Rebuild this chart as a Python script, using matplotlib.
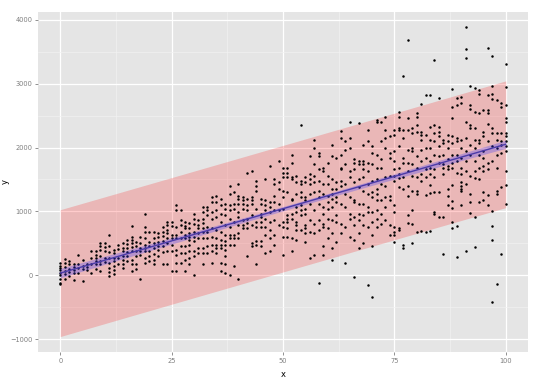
import numpy as np
import matplotlib
matplotlib.use("Agg")
import matplotlib.pyplot as plt

# ---- data: one list of y values per integer x ----
x_cols = list(range(101))
y_cols = [
    [195, 154, 118, 82, 41, 0, -51, -123, -143],                 # 0
    [257, 195, 134, 67, 15, -62],                                  # 1
    [221, 170, 103, 51, -10],                                      # 2
    [185, 134, 82, 31, -72],                                       # 3
    [324, 170, 118, 41],                                           # 4
    [247, 154, 93, -92],                                           # 5
    [185, 134, 82],                                                # 6
    [375, 272, 170, 31],                                           # 7
    [375, 324, 272, 221, 170, 93],                                 # 8
    [503, 452, 390, 298, 221, 170, 67],                            # 9
    [503, 442, 375, 272, 206],                                     # 10
    [632, 462, 360, 272, 195, 118, 51, -10],                       # 11
    [401, 350, 272, 221, 144, 82, 15],                             # 12
    [478, 411, 272, 170],                                          # 13
    [503, 426, 375, 308, 247, 180, 118],                           # 14
    [555, 493, 426, 360, 298, 221],                                # 15
    [770, 606, 555, 503, 442, 375, 247, 170, 67],                  # 16
    [529, 452, 375, 298, 170, 103],                                # 17
    [596, 503, 426, 375, 324, -51],                                # 18
    [955, 760, 683, 580, 478, 426, 375, 272, 195],                 # 19
    [683, 529, 452, 375, 298, 221],                                # 20
    [683, 580, 503, 426, 339, 247, 170],                           # 21
    [668, 606, 529, 452, 390, 298],                                # 22
    [760, 683, 616, 545, 452, 360, 170],                           # 23
    [837, 786, 709, 658, 580, 503, 375, 170],                      # 24
    [838, 776, 632, 581, 478, 375, 67],                            # 25
    [1095, 1017, 761, 632, 581, 401, 324, 196, 67],                # 26
    [1017, 863, 786, 684, 581, 452, 350, 196],                     # 27
    [838, 776, 735, 632, 581, 452, 350, 247, 67],                  # 28
    [812, 735, 658, 607, 555, 478, 375, 273, 170],                 # 29
    [966, 889, 797, 673, 607, 530, 375, 298, 6],                   # 30
    [863, 786, 735, 658, 581, 427, 350],                           # 31
    [1069, 992, 889, 812, 735, 684, 581, 427, 350, 170],           # 32
    [1069, 1017, 940, 761, 684, 581, 452, 350],                    # 33
    [1223, 1146, 992, 889, 735, 607, 478, 375, 196],               # 34
    [1249, 1146, 1017, 915, 709, 581, 478, 427, 350],              # 35
    [1197, 1095, 966, 838, 684, 555, 478, 427, 196, 67],           # 36
    [1120, 1043, 940, 786, 632, 530, 478, 401, 298, 170, 41],      # 37
    [1403, 1274, 1095, 1017, 889, 761, 632, 581, 478, 0],          # 38
    [1300, 1120, 1043, 838, 632, 581, 478, 144],                   # 39
    [1429, 1249, 1197, 1120, 992, 915, 786, 658, 581, -61],        # 40
    [1223, 1172, 1120, 1043, 863, 786, 735],                       # 41
    [1608, 1197, 1095, 1017, 889, 812, 735, 298],                  # 42
    [1634, 1223, 1172, 1120, 940, 786, 504, 452],                  # 43
    [1480, 1403, 1326, 1043, 838, 761, 530, 478, 170],             # 44
    [1197, 1120, 966, 915, 838, 761, 530, 452],                    # 45
    [1506, 1172, 1095, 1017, 889, 761, 632, 350],                  # 46
    [1711, 1146, 1069, 992, 838, 709, 581, 375],                   # 47
    [1506, 1429, 1249, 1146, 1017, 863, 632, 478],                 # 48
    [1788, 1454, 1352, 1120, 1017, 786],                           # 49
    [1685, 1608, 1531, 1325, 1223, 1043, 838, 760, 606, 324],      # 50
    [1685, 1608, 1531, 1300, 940, 889, 837, 735, 606],             # 51
    [1890, 1762, 1531, 1505, 1197, 1171, 966, 889, 580, 375],      # 52
    [1556, 1454, 1274, 1068, 991, 837, 786, 709, 555],             # 53
    [2353, 1480, 1428, 1300, 1222, 1094, 1017, 940, 709],          # 54
    [1531, 1454, 1222, 1171, 1043, 966, 786, 735, 657, 529],       # 55
    [1865, 1582, 1505, 1428, 1274, 1120, 863, 683, 272],           # 56
    [2121, 1993, 1736, 1556, 1454, 1300, 1017, 811, 657, 324],     # 57
    [1916, 1865, 1659, 1480, 1325, 1222, 1120, 863, 709, -123],    # 58
    [1685, 1633, 1428, 1274, 1068, 966, 811, 760, 452, 324],       # 59
    [1762, 1556, 1428, 1248, 1145, 1043, 889, 735, 580],           # 60
    [2044, 1865, 1505, 1351, 1274, 1197, 1068, 863, 657, 426, 246],  # 61
    [1839, 1454, 1351, 1222, 1145, 940, 837, 529],                 # 62
    [2260, 2147, 1890, 1685, 1659, 1480, 1402, 1120, 811, 657],    # 63
    [2096, 1967, 1736, 1428, 1274, 1068, 760, 195],                # 64
    [2404, 2147, 1993, 1633, 1531, 1222, 966, 889, 606],           # 65
    [1813, 1762, 1659, 1454, 1171, 1145, 914, 786, 555, -26],      # 66
    [2378, 1788, 1736, 1505, 1377, 1120, 966, 863, 657, 426],      # 67
    [2044, 1788, 1736, 1659, 1531, 1325, 1120, 940, 786, 503],     # 68
    [2276, 2096, 1762, 1633, 1428, 1274, 1068, 991, 760, -154],    # 69
    [2019, 1916, 1736, 1480, 1300, 1222, 991, 837, 632, 452, -344],  # 70
    [2430, 2404, 1890, 1685, 1505, 1351, 1274, 1171, 1017, 889, 760],  # 71
    [2404, 2096, 1813, 1685, 1428, 1171, 966, 811],                # 72
    [2481, 2276, 2147, 1993, 1531, 1402, 1222, 1068, 863],         # 73
    [2173, 1916, 1839, 1556, 1248, 1171, 786, 632],                # 74
    [2276, 2199, 1942, 1788, 1659, 1556, 1480, 1094, 991, 760, 684, 633, 529],  # 75
    [2558, 2481, 2301, 2276, 2019, 1685, 1582, 1516, 1377, 735, 710],  # 76
    [3113, 2276, 2147, 1839, 1762, 1531, 1352, 478, 427],          # 77
    [3678, 2456, 2276, 1967, 1762, 1634, 1403, 1249, 941, 812],    # 78
    [2301, 2224, 1993, 1942, 1736, 1556, 1326, 1018, 797, 504],    # 79
    [2532, 2481, 2353, 2250, 1865, 1685, 1531, 1326, 1275, 684],   # 80
    [2687, 2250, 2199, 2122, 1967, 1788, 1582, 1480, 694],         # 81
    [2825, 2199, 1993, 1839, 1659, 1531, 1259, 674],               # 82
    [2825, 2327, 2122, 1993, 1788, 1685, 1582, 1413, 1290, 694],   # 83
    [3365, 2353, 2224, 2096, 1890, 1659, 1531, 1300, 992, 967],    # 84
    [2774, 2327, 2250, 2173, 2019, 1865, 1762, 1311, 915],         # 85
    [2122, 2070, 1890, 1736, 1685, 1582, 915, 335],                # 86
    [2199, 2096, 1993, 1814, 1711, 1659, 1352, 1249, 1095],        # 87
    [2918, 2635, 2456, 2173, 2070, 1890, 1762, 1685, 1413, 1157, 1054, 838, 735],  # 88
    [2774, 2671, 2147, 2096, 1890, 1788, 1608, 776, 283],          # 89
    [2789, 2702, 2122, 1993, 1839, 1685, 1582, 1455, 1403, 1352, 1326, 1105],  # 90
    [3878, 3534, 3396, 2394, 2147, 1942, 1788, 1634, 1429, 376],   # 91
    [2959, 2661, 2599, 2353, 2301, 2044, 1890, 1556, 1275, 1146, 982],  # 92
    [2928, 2558, 2301, 2122, 1993, 1788, 1634, 1516, 915, 437],    # 93
    [2892, 2841, 2532, 2122, 2070, 1890, 1685, 1505, 1146],        # 94
    [2584, 2250, 2173, 1942, 1839, 1711, 1634, 1300, 1172],        # 95
    [3550, 2815, 2584, 2532, 2363, 2096, 1762, 1659, 1259, 1095],  # 96
    [3432, 2969, 2841, 2764, 2301, 2224, 2019, 1788, 1002, 776, 556, -420],  # 97
    [2738, 2224, 2122, 1993, 1890, 1685, 1326, 1275, -138],        # 98
    [2702, 2635, 2224, 2096, 2044, 1916, 1377, 335],               # 99
    [3303, 2944, 2661, 2456, 2404, 2224, 2173, 2096, 2019, 1942, 1634, 1413, 1121],  # 100
]
x_ticks = [0, 25, 50, 75, 100]
y_ticks = [-1000, 0, 1000, 2000, 3000, 4000]

x = np.concatenate([[xc] * len(yc) for xc, yc in zip(x_cols, y_cols)]).astype(float)
y = np.concatenate([np.asarray(yc, float) for yc in y_cols])

# ---- linear model with confidence and prediction intervals ----
n = len(x)
slope, intercept = np.polyfit(x, y, 1)
resid = y - (intercept + slope * x)
s = np.sqrt(np.sum(resid ** 2) / (n - 2))
xm = x.mean()
sxx = np.sum((x - xm) ** 2)
tq = 1.962
xg = np.linspace(x.min(), x.max(), 80)
yg = intercept + slope * xg
se_fit = s * np.sqrt(1.0 / n + (xg - xm) ** 2 / sxx)
se_pred = np.sqrt(s ** 2 + se_fit ** 2)
pi_lo, pi_hi = yg - tq * se_pred, yg + tq * se_pred
ci_lo, ci_hi = yg - tq * se_fit, yg + tq * se_fit

# ---- figure ----
fig = plt.figure(figsize=(5.4, 3.79), dpi=100)
ax = fig.add_axes([38 / 540, 27 / 379, 490 / 540, 340 / 379])
ax.set_facecolor("#E5E5E5")
for sp in ax.spines.values():
    sp.set_visible(False)

ax.fill_between(xg, pi_lo, pi_hi, color="#FF0000", alpha=0.2, lw=0, zorder=2)
ax.scatter(x, y, s=3.2, c="black", linewidths=0, zorder=3)
ax.fill_between(xg, ci_lo, ci_hi, color="#3333FF", alpha=0.28, lw=0, zorder=4)
ax.plot(xg, yg, color="#4B3BA8", lw=1.0, zorder=5)

xr = x.max() - x.min()
ylo = min(y.min(), pi_lo.min())
yhi = max(y.max(), pi_hi.max())
yr = yhi - ylo
ax.set_xlim(x.min() - 0.05 * xr, x.max() + 0.05 * xr)
ax.set_ylim(ylo - 0.05 * yr, yhi + 0.05 * yr)

ax.set_xticks(x_ticks)
ax.set_yticks(y_ticks)
ax.set_xticks([12.5, 37.5, 62.5, 87.5], minor=True)
ax.set_yticks([-500, 500, 1500, 2500, 3500], minor=True)
ax.grid(which="major", color="white", lw=0.9, zorder=0)
ax.grid(which="minor", color="#F2F2F2", lw=0.45, zorder=0)
ax.set_axisbelow(True)
ax.tick_params(which="major", length=2.5, width=0.6, color="#7F7F7F",
               labelcolor="#7F7F7F", labelsize=4.8, pad=1.5)
ax.tick_params(which="minor", length=0)
ax.set_xlabel("x", fontsize=6)
ax.set_ylabel("y", fontsize=6)
ax.xaxis.set_label_coords(0.5, -0.053)
ax.yaxis.set_label_coords(-0.057, 0.5)

fig.savefig("out.png", dpi=100, facecolor="white")
